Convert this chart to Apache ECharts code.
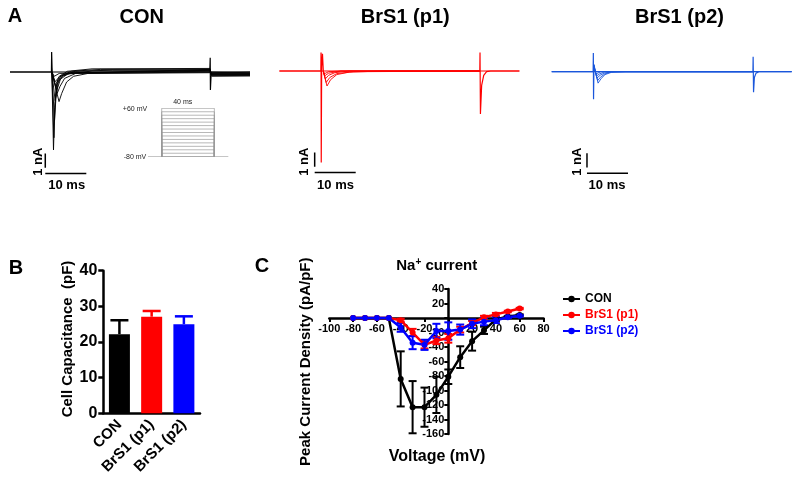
<!DOCTYPE html>
<html>
<head>
<meta charset="utf-8">
<script src="https://cdn.jsdelivr.net/npm/echarts@6/dist/echarts.min.js"></script>
<style>html,body{margin:0;padding:0;background:#fff}#c{width:800px;height:485px}</style>
</head>
<body>
<div id="c"></div>
<script>
// ---------- Panel A: current traces (time ms, current nA) ----------
const CON_TRANSIENTS = [
  [[0,0],[10.1,0],[10.15,1.4],[10.25,0.3],[10.3,0]],
  [[48.7,0.05],[48.8,1.0],[48.85,-1.26],[49.0,-0.3]]
];
const CON_TRACES = [
  [[10.2,0],[10.6,-5.45],[10.9,-2.5],[11.3,-0.8],[12,-0.3],[14,0.05],[20,0.22],[48.75,0.25],[49.1,-0.3],[58.5,-0.28]],
  [[10.2,0],[10.7,-4.6],[11.0,-2.2],[11.5,-0.7],[12.5,-0.25],[15,0.05],[22,0.18],[48.75,0.2],[49.1,-0.25],[58.5,-0.24]],
  [[10.2,0],[10.85,-3.4],[11.2,-1.8],[11.8,-0.6],[13,-0.2],[16,0.05],[25,0.13],[48.75,0.15],[49.1,-0.2],[58.5,-0.2]],
  [[10.2,0],[11.0,-2.0],[11.5,-1.2],[12.3,-0.5],[14,-0.15],[20,0.07],[48.75,0.1],[49.1,-0.15],[58.5,-0.15]],
  [[10.2,0],[11.2,-1.03],[11.8,-0.7],[12.8,-0.3],[15,-0.05],[48.75,0.05],[49.1,-0.1],[58.5,-0.1]],
  [[10.2,0],[11.5,-1.5],[12.2,-1.0],[13.3,-0.45],[16,-0.1],[48.75,0.0],[49.1,-0.05],[58.5,-0.05]],
  [[10.2,0],[11.95,-2.07],[12.6,-1.5],[13.8,-0.7],[15.5,-0.3],[19,-0.1],[48.75,-0.05],[49.1,0.0],[58.5,0.0]],
  [[10.2,0],[11.0,-0.68],[12,-0.35],[14,-0.1],[48.75,0.12],[49.1,-0.12],[58.5,-0.12]],
  [[10.2,0],[10.8,-0.3],[12,-0.1],[48.75,0.18],[49.1,-0.18],[58.5,-0.18]]
];
const P1_TRANSIENTS = [
  [[0,0],[10.1,0],[10.15,1.3],[10.2,-6.4],[10.3,0.3],[10.5,1.2],[10.7,0]],
  [[48.85,0],[48.9,1.3],[49.0,-3.0],[49.3,-1.0],[49.8,-0.3],[50.5,-0.05],[51.5,0],[58.5,0]]
];
const P1_TRACES = [
  [[10.7,0],[11.6,-1.05],[12.5,-0.6],[14,-0.25],[17,-0.08],[25,0],[48.9,0]],
  [[10.7,0],[11.4,-0.8],[12.3,-0.45],[14,-0.18],[18,-0.05],[48.9,0]],
  [[10.7,0],[11.2,-0.55],[12,-0.3],[13.5,-0.12],[17,0],[48.9,0]],
  [[10.7,0],[11.0,-0.35],[12,-0.15],[15,0],[48.9,0]],
  [[10.7,0],[10.9,-0.2],[12,-0.05],[15,0],[48.9,0]]
];
const P2_TRANSIENTS = [
  [[0,0],[10.1,0],[10.15,1.3],[10.2,-1.93],[10.3,0.5],[10.4,0]],
  [[49.05,0],[49.1,1.05],[49.2,-1.44],[49.4,-0.4],[49.8,-0.1],[50.5,0],[58.5,0]]
];
const P2_TRACES = [
  [[10.3,0.5],[11.3,-0.8],[12,-0.5],[13,-0.2],[14.5,-0.05],[18,0],[49.1,0]],
  [[10.3,0.45],[11.2,-0.62],[11.9,-0.38],[13,-0.15],[14.5,0],[49.1,0]],
  [[10.3,0.4],[11.0,-0.45],[11.8,-0.25],[13,-0.08],[15,0],[49.1,0]],
  [[10.3,0.35],[10.9,-0.3],[11.7,-0.15],[13,0],[49.1,0]],
  [[10.3,0.3],[10.8,-0.15],[12,0],[49.1,0]]
];
const SCALE_V = [[8.6,-5.7],[8.6,-6.7]];   // 1 nA
const SCALE_H = [[8.6,-7.1],[18.6,-7.1]];  // 10 ms
// voltage protocol inset
const V_HOLD = -80;
const V_STEPS = [-80,-70,-60,-50,-40,-30,-20,-10,0,10,20,30,40,50,60];
const PULSE = [10.4, 50.4];

// ---------- Panel B: cell capacitance ----------
const CAP_CATS = ['CON','BrS1 (p1)','BrS1 (p2)'];
const CAP_MEAN = [22.2, 27.1, 25.0];
const CAP_SEM  = [3.9, 1.6, 2.2];

// ---------- Panel C: I-V relationship ----------
const VOLT = [-80,-70,-60,-50,-40,-30,-20,-10,0,10,20,30,40,50,60];
const CON_IV  = [0,0,0,0,-84,-123,-123,-106,-81,-54,-32,-17,-2,2,4];
const CON_SEM = [0,0,0,0,38,36,27,25,10,15,13,5,2,1,1];
const P1_IV   = [0,0,0,0,-3,-20,-37,-31,-28,-16,-7,1,5,9,13];
const P1_SEM  = [0,0,0,0,2,5,5,5,6,4,3,2,2,1,1];
const P2_IV   = [0,0,0,0,-13,-34,-37,-18,-18,-16,-8,-5,-3,1,3];
const P2_SEM  = [0,0,0,0,6,9,7,10,12,7,6,5,4,1,1];
const IV_X = [-100, 80, 20];
const IV_Y = [-160, 40, 20];

const COL = {con:'#000000', p1:'#ff0000', p2:'#0000ff', p2trace:'#1a56db'};
const FONT = '"Liberation Sans", Arial, sans-serif';

const chart = echarts.init(document.getElementById('c'), null, {renderer:'canvas'});

function hiddenX(gi, max){ return {type:'value', gridIndex:gi, min:0, max:max, show:false}; }
function hiddenY(gi, min, max){ return {type:'value', gridIndex:gi, min:min, max:max, show:false}; }
function lineS(gi, data, color, w){
  return {type:'line', xAxisIndex:gi, yAxisIndex:gi, data:data, symbol:'none', showSymbol:false,
    lineStyle:{color:color, width:w||1}, silent:true, animation:false, z:2};
}
function traceGroup(gi, transients, traces, color){
  const s = [];
  [[[0,0],[58.5,0]]].concat(transients).forEach(d=>s.push(lineS(gi,d,color,1.2)));
  traces.forEach(d=>s.push(lineS(gi,d,color,0.9)));
  s.push(lineS(gi, SCALE_V, '#000', 1.5));
  s.push(lineS(gi, SCALE_H, '#000', 1.5));
  return s;
}

const series = [];
series.push(...traceGroup(0, CON_TRANSIENTS, CON_TRACES, '#000'));
series.push(...traceGroup(1, P1_TRANSIENTS, P1_TRACES, COL.p1));
series.push(...traceGroup(2, P2_TRANSIENTS, P2_TRACES, COL.p2trace));
// inset protocol
series.push(lineS(3, [[0,V_HOLD],[61,V_HOLD]], '#999', 0.7));
V_STEPS.forEach(v=>series.push(lineS(3, [[PULSE[0],V_HOLD],[PULSE[0],v],[PULSE[1],v],[PULSE[1],V_HOLD]], '#999', 0.7)));

// Panel B bars
series.push({type:'bar', name:'cap', xAxisIndex:4, yAxisIndex:4, barWidth:21, animation:false,
  data: CAP_MEAN.map((v,i)=>({value:v, itemStyle:{color:[COL.con,COL.p1,COL.p2][i]}}))});
series.push({type:'custom', name:'capErr', xAxisIndex:4, yAxisIndex:4, animation:false, z:3,
  data: CAP_MEAN.map((v,i)=>[i, v, CAP_SEM[i]]),
  renderItem:function(params, api){
    const i=api.value(0), m=api.value(1), e=api.value(2);
    const c=[COL.con,COL.p1,COL.p2][i];
    const top=api.coord([i,m+e]), bot=api.coord([i,m]);
    return {type:'group', children:[
      {type:'line', shape:{x1:top[0],y1:top[1],x2:bot[0],y2:bot[1]}, style:{stroke:c, lineWidth:2.5}},
      {type:'line', shape:{x1:top[0]-9,y1:top[1],x2:top[0]+9,y2:top[1]}, style:{stroke:c, lineWidth:2.5}}
    ]};
  }});

// Panel C error bars + lines
function errSeries(mean, sem, color){
  return {type:'custom', xAxisIndex:5, yAxisIndex:5, animation:false, z:3,
    data: VOLT.map((v,i)=>[v, mean[i], sem[i]]),
    renderItem:function(params, api){
      const x=api.value(0), m=api.value(1), e=api.value(2);
      if(!e) return null;
      const t=api.coord([x,m+e]), b=api.coord([x,m-e]);
      return {type:'group', children:[
        {type:'line', shape:{x1:t[0],y1:t[1],x2:b[0],y2:b[1]}, style:{stroke:color, lineWidth:2}},
        {type:'line', shape:{x1:t[0]-4,y1:t[1],x2:t[0]+4,y2:t[1]}, style:{stroke:color, lineWidth:2}},
        {type:'line', shape:{x1:b[0]-4,y1:b[1],x2:b[0]+4,y2:b[1]}, style:{stroke:color, lineWidth:2}}
      ]};
    }};
}
function ivLine(name, mean, color){
  return {type:'line', name:name, xAxisIndex:5, yAxisIndex:5, animation:false, z:4,
    data: VOLT.map((v,i)=>[v, mean[i]]), symbol:'circle', symbolSize:6,
    itemStyle:{color:color}, lineStyle:{color:color, width:2.5}};
}
series.push(errSeries(CON_IV, CON_SEM, COL.con), ivLine('CON', CON_IV, COL.con));
series.push(errSeries(P1_IV, P1_SEM, COL.p1), ivLine('BrS1 (p1)', P1_IV, COL.p1));
series.push(errSeries(P2_IV, P2_SEM, COL.p2), ivLine('BrS1 (p2)', P2_IV, COL.p2));

const boldLbl = (size)=>({color:'#000', fontWeight:'bold', fontSize:size, fontFamily:FONT});

// Panel C grid, axes cross at zero
const GC = {left:329.3, top:289, width:214.2, height:145};
const xZeroOff = GC.width * (0 - IV_X[0]) / (IV_X[1] - IV_X[0]);      // from left edge
const yZeroOff = GC.height * (0 - IV_Y[0]) / (IV_Y[1] - IV_Y[0]);     // from bottom edge

const option = {
  backgroundColor:'#fff',
  animation:false,
  textStyle:{fontFamily:FONT},
  grid:[
    {left:10, top:43.4, width:240, height:143},
    {left:279.4, top:42.4, width:240, height:143},
    {left:551.7, top:43.1, width:240, height:143},
    {left:148, top:108.3, width:80.3, height:48.4},
    {left:103.3, top:270.7, width:96.7, height:142.6},
    GC
  ],
  xAxis:[
    hiddenX(0,58.5), hiddenX(1,58.5), hiddenX(2,58.5), hiddenX(3,61),
    {type:'category', gridIndex:4, data:CAP_CATS,
      axisLine:{lineStyle:{color:'#000', width:2.5}}, axisTick:{show:false},
      axisLabel:Object.assign({rotate:45, interval:0, margin:9}, boldLbl(15))},
    {type:'value', gridIndex:5, min:IV_X[0], max:IV_X[1], interval:IV_X[2], splitLine:{show:false},
      position:'bottom', offset:-yZeroOff,
      axisLine:{onZero:false, lineStyle:{color:'#000', width:2.5}},
      axisTick:{show:true, length:4, lineStyle:{color:'#000', width:2}},
      axisLabel:Object.assign({margin:5, showMinLabel:true, showMaxLabel:true, formatter:v=>v===0?'':String(v)}, boldLbl(11))}
  ],
  yAxis:[
    hiddenY(0,-8,2), hiddenY(1,-8,2), hiddenY(2,-8,2), hiddenY(3,-80,60),
    {type:'value', gridIndex:4, min:0, max:40, interval:10, splitLine:{show:false},
      axisLine:{show:true, lineStyle:{color:'#000', width:2.5}},
      axisTick:{show:true, length:5, lineStyle:{color:'#000', width:2.5}},
      axisLabel:Object.assign({margin:6}, boldLbl(16))},
    {type:'value', gridIndex:5, min:IV_Y[0], max:IV_Y[1], interval:IV_Y[2], splitLine:{show:false},
      position:'left', offset:-xZeroOff,
      axisLine:{show:true, onZero:false, lineStyle:{color:'#000', width:2.5}},
      axisTick:{show:true, length:4, lineStyle:{color:'#000', width:2}},
      axisLabel:Object.assign({margin:4, showMinLabel:true, showMaxLabel:true, formatter:v=>v===0?'':String(v)}, boldLbl(11))}
  ],
  legend:{
    data:[
      {name:'CON', textStyle:{color:COL.con}},
      {name:'BrS1 (p1)', textStyle:{color:COL.p1}},
      {name:'BrS1 (p2)', textStyle:{color:COL.p2}}
    ],
    orient:'vertical', left:557, top:288, itemWidth:17, itemHeight:8, itemGap:4,
    textStyle:{fontWeight:'bold', fontSize:12, fontFamily:FONT}
  },
  graphic:[
    {type:'text', x:15, y:16, style:{text:'A', font:'bold 20px '+FONT, fill:'#000', align:'center', verticalAlign:'middle'}},
    {type:'text', x:141.7, y:17, style:{text:'CON', font:'bold 20px '+FONT, fill:'#000', align:'center', verticalAlign:'middle'}},
    {type:'text', x:405.3, y:17, style:{text:'BrS1 (p1)', font:'bold 20px '+FONT, fill:'#000', align:'center', verticalAlign:'middle'}},
    {type:'text', x:679.5, y:17, style:{text:'BrS1 (p2)', font:'bold 20px '+FONT, fill:'#000', align:'center', verticalAlign:'middle'}},
    // scale bar labels
    {type:'text', x:38, y:161.7, rotation:Math.PI/2, style:{text:'1 nA', font:'bold 13px '+FONT, fill:'#000', align:'center', verticalAlign:'middle'}},
    {type:'text', x:66.7, y:185, style:{text:'10 ms', font:'bold 13px '+FONT, fill:'#000', align:'center', verticalAlign:'middle'}},
    {type:'text', x:304, y:161.7, rotation:Math.PI/2, style:{text:'1 nA', font:'bold 13px '+FONT, fill:'#000', align:'center', verticalAlign:'middle'}},
    {type:'text', x:335.5, y:185, style:{text:'10 ms', font:'bold 13px '+FONT, fill:'#000', align:'center', verticalAlign:'middle'}},
    {type:'text', x:577, y:161.7, rotation:Math.PI/2, style:{text:'1 nA', font:'bold 13px '+FONT, fill:'#000', align:'center', verticalAlign:'middle'}},
    {type:'text', x:607, y:185, style:{text:'10 ms', font:'bold 13px '+FONT, fill:'#000', align:'center', verticalAlign:'middle'}},
    // inset labels
    {type:'text', x:135, y:109.3, style:{text:'+60 mV', font:'7px '+FONT, fill:'#222', align:'center', verticalAlign:'middle'}},
    {type:'text', x:135, y:156.7, style:{text:'-80 mV', font:'7px '+FONT, fill:'#222', align:'center', verticalAlign:'middle'}},
    {type:'text', x:182.7, y:102.3, style:{text:'40 ms', font:'7px '+FONT, fill:'#222', align:'center', verticalAlign:'middle'}},
    // panel B
    {type:'text', x:16, y:268, style:{text:'B', font:'bold 20px '+FONT, fill:'#000', align:'center', verticalAlign:'middle'}},
    {type:'text', x:68.3, y:339, rotation:Math.PI/2, style:{text:'Cell Capacitance  (pF)', font:'bold 15px '+FONT, fill:'#000', align:'center', verticalAlign:'middle'}},
    // panel C
    {type:'text', x:262, y:266, style:{text:'C', font:'bold 20px '+FONT, fill:'#000', align:'center', verticalAlign:'middle'}},
    {type:'text', x:436.7, y:266, style:{text:'Na{sup|+} current', font:'bold 15px '+FONT, fill:'#000', align:'center', verticalAlign:'middle',
      rich:{sup:{font:'bold 10px '+FONT, fill:'#000', verticalAlign:'top', padding:[0,0,8,0]}}}},
    {type:'text', x:305.8, y:361.7, rotation:Math.PI/2, style:{text:'Peak Current Density (pA/pF)', font:'bold 15px '+FONT, fill:'#000', align:'center', verticalAlign:'middle'}},
    {type:'text', x:437, y:456.7, style:{text:'Voltage (mV)', font:'bold 16px '+FONT, fill:'#000', align:'center', verticalAlign:'middle'}}
  ],
  series:series
};
chart.setOption(option);
</script>
</body>
</html>
